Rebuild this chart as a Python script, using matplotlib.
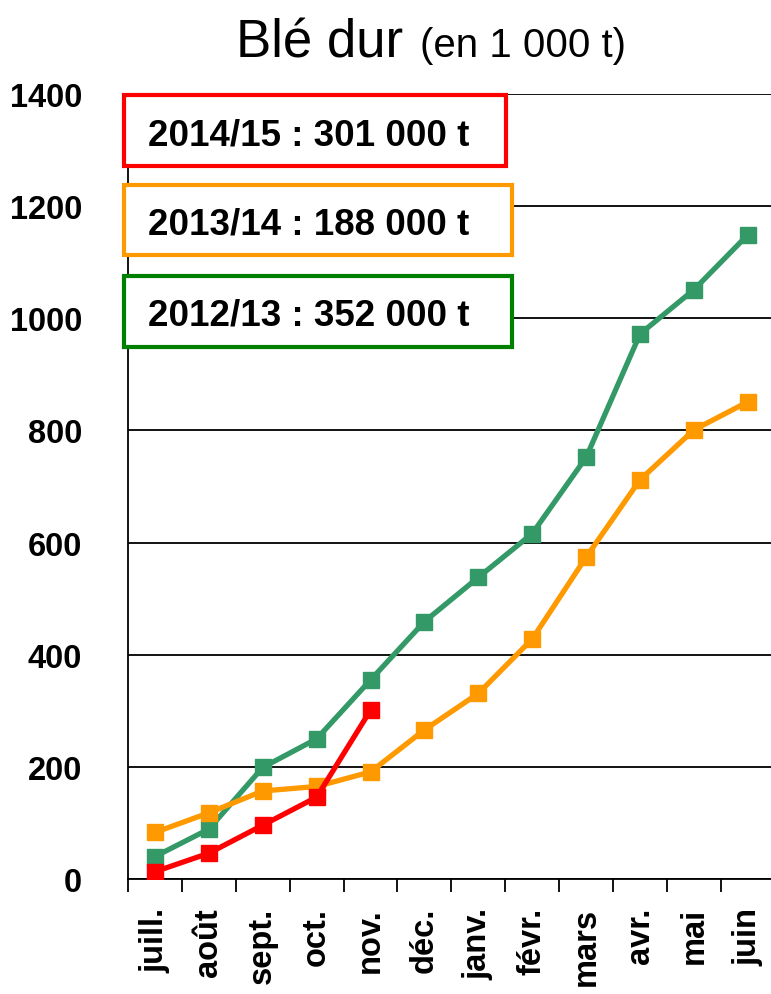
import matplotlib
matplotlib.use("Agg")
import matplotlib.pyplot as plt
from matplotlib.patches import Rectangle
import numpy as np

# data (en 1 000 t)
months = ["juill.", "août", "sept.", "oct.", "nov.", "déc.", "janv.",
          "févr.", "mars", "avr.", "mai", "juin"]
campagne_2012 = [40, 89, 199, 250, 355, 459, 538, 616, 752, 972, 1051, 1149]
campagne_2013 = [83, 118, 157, 165, 191, 266, 331, 428, 574, 712, 801, 851]
campagne_2014 = [13, 46, 96, 146, 301]
labels = ["2014/15 : 301 000 t", "2013/14 : 188 000 t", "2012/13 : 352 000 t"]

GREEN = "#339966"
ORANGE = "#FF9900"
RED = "#FF0000"
BOX_EDGES = [RED, ORANGE, "#008000"]

plt.rcParams["font.family"] = ["Liberation Sans", "DejaVu Sans"]

W, H = 771, 995
fig = plt.figure(figsize=(W / 100, H / 100), dpi=100)
ax = fig.add_axes([128 / W, 1 - 880 / H, (12 * 53.9) / W, (880 - 95) / H])

x = np.arange(len(months))
ax.plot(x, campagne_2012, color=GREEN, lw=3.8, marker="s", ms=11, zorder=3)
ax.plot(x, campagne_2013, color=ORANGE, lw=3.8, marker="s", ms=11, zorder=4)
ax.plot(x[:len(campagne_2014)], campagne_2014, color=RED, lw=3.8,
        marker="s", ms=11, zorder=5)

ax.set_xlim(-0.5, 11.5)
ax.set_ylim(0, 1400)
ax.set_yticks(range(0, 1401, 200))
ax.yaxis.grid(True, color="black", lw=1.3)
ax.set_axisbelow(True)
for s in ["top", "right"]:
    ax.spines[s].set_visible(False)
ax.spines["left"].set_linewidth(1.3)
ax.spines["bottom"].set_linewidth(1.3)

ax.tick_params(axis="y", length=0, pad=33, labelsize=23.5)
for t in ax.get_yticklabels():
    t.set_fontweight("bold")

# category labels between boundary ticks
ax.set_xticks(x)
ax.set_xticklabels(months, rotation=90, fontsize=23.5, fontweight="bold",
                   va="top", ha="center")
ax.tick_params(axis="x", which="major", length=0, pad=20)
ax.set_xticks(np.arange(-0.5, 12, 1), minor=True)
ax.tick_params(axis="x", which="minor", length=9, width=1.3, direction="out")

# title
fig.text(236 / W, 1 - 57 / H, "Blé dur", fontsize=38, ha="left", va="baseline")
fig.text(420 / W, 1 - 57 / H, "(en 1 000 t)", fontsize=29, ha="left",
         va="baseline")

# legend boxes
boxes = [(124, 96, 506, 167), (124, 186, 512, 256), (124, 277, 512, 348)]
for (x0, y0, x1, y1), lab, ec in zip(boxes, labels, BOX_EDGES):
    fig.patches.append(Rectangle((x0 / W, 1 - y1 / H), (x1 - x0) / W,
                                 (y1 - y0) / H, transform=fig.transFigure,
                                 facecolor="white", edgecolor=ec, lw=3,
                                 zorder=10))
    fig.text(148 / W, 1 - (y0 + y1) / 2 / H, lab, fontsize=26.5,
             fontweight="bold", ha="left", va="center_baseline", zorder=11)

fig.savefig("out.png", dpi=100)
